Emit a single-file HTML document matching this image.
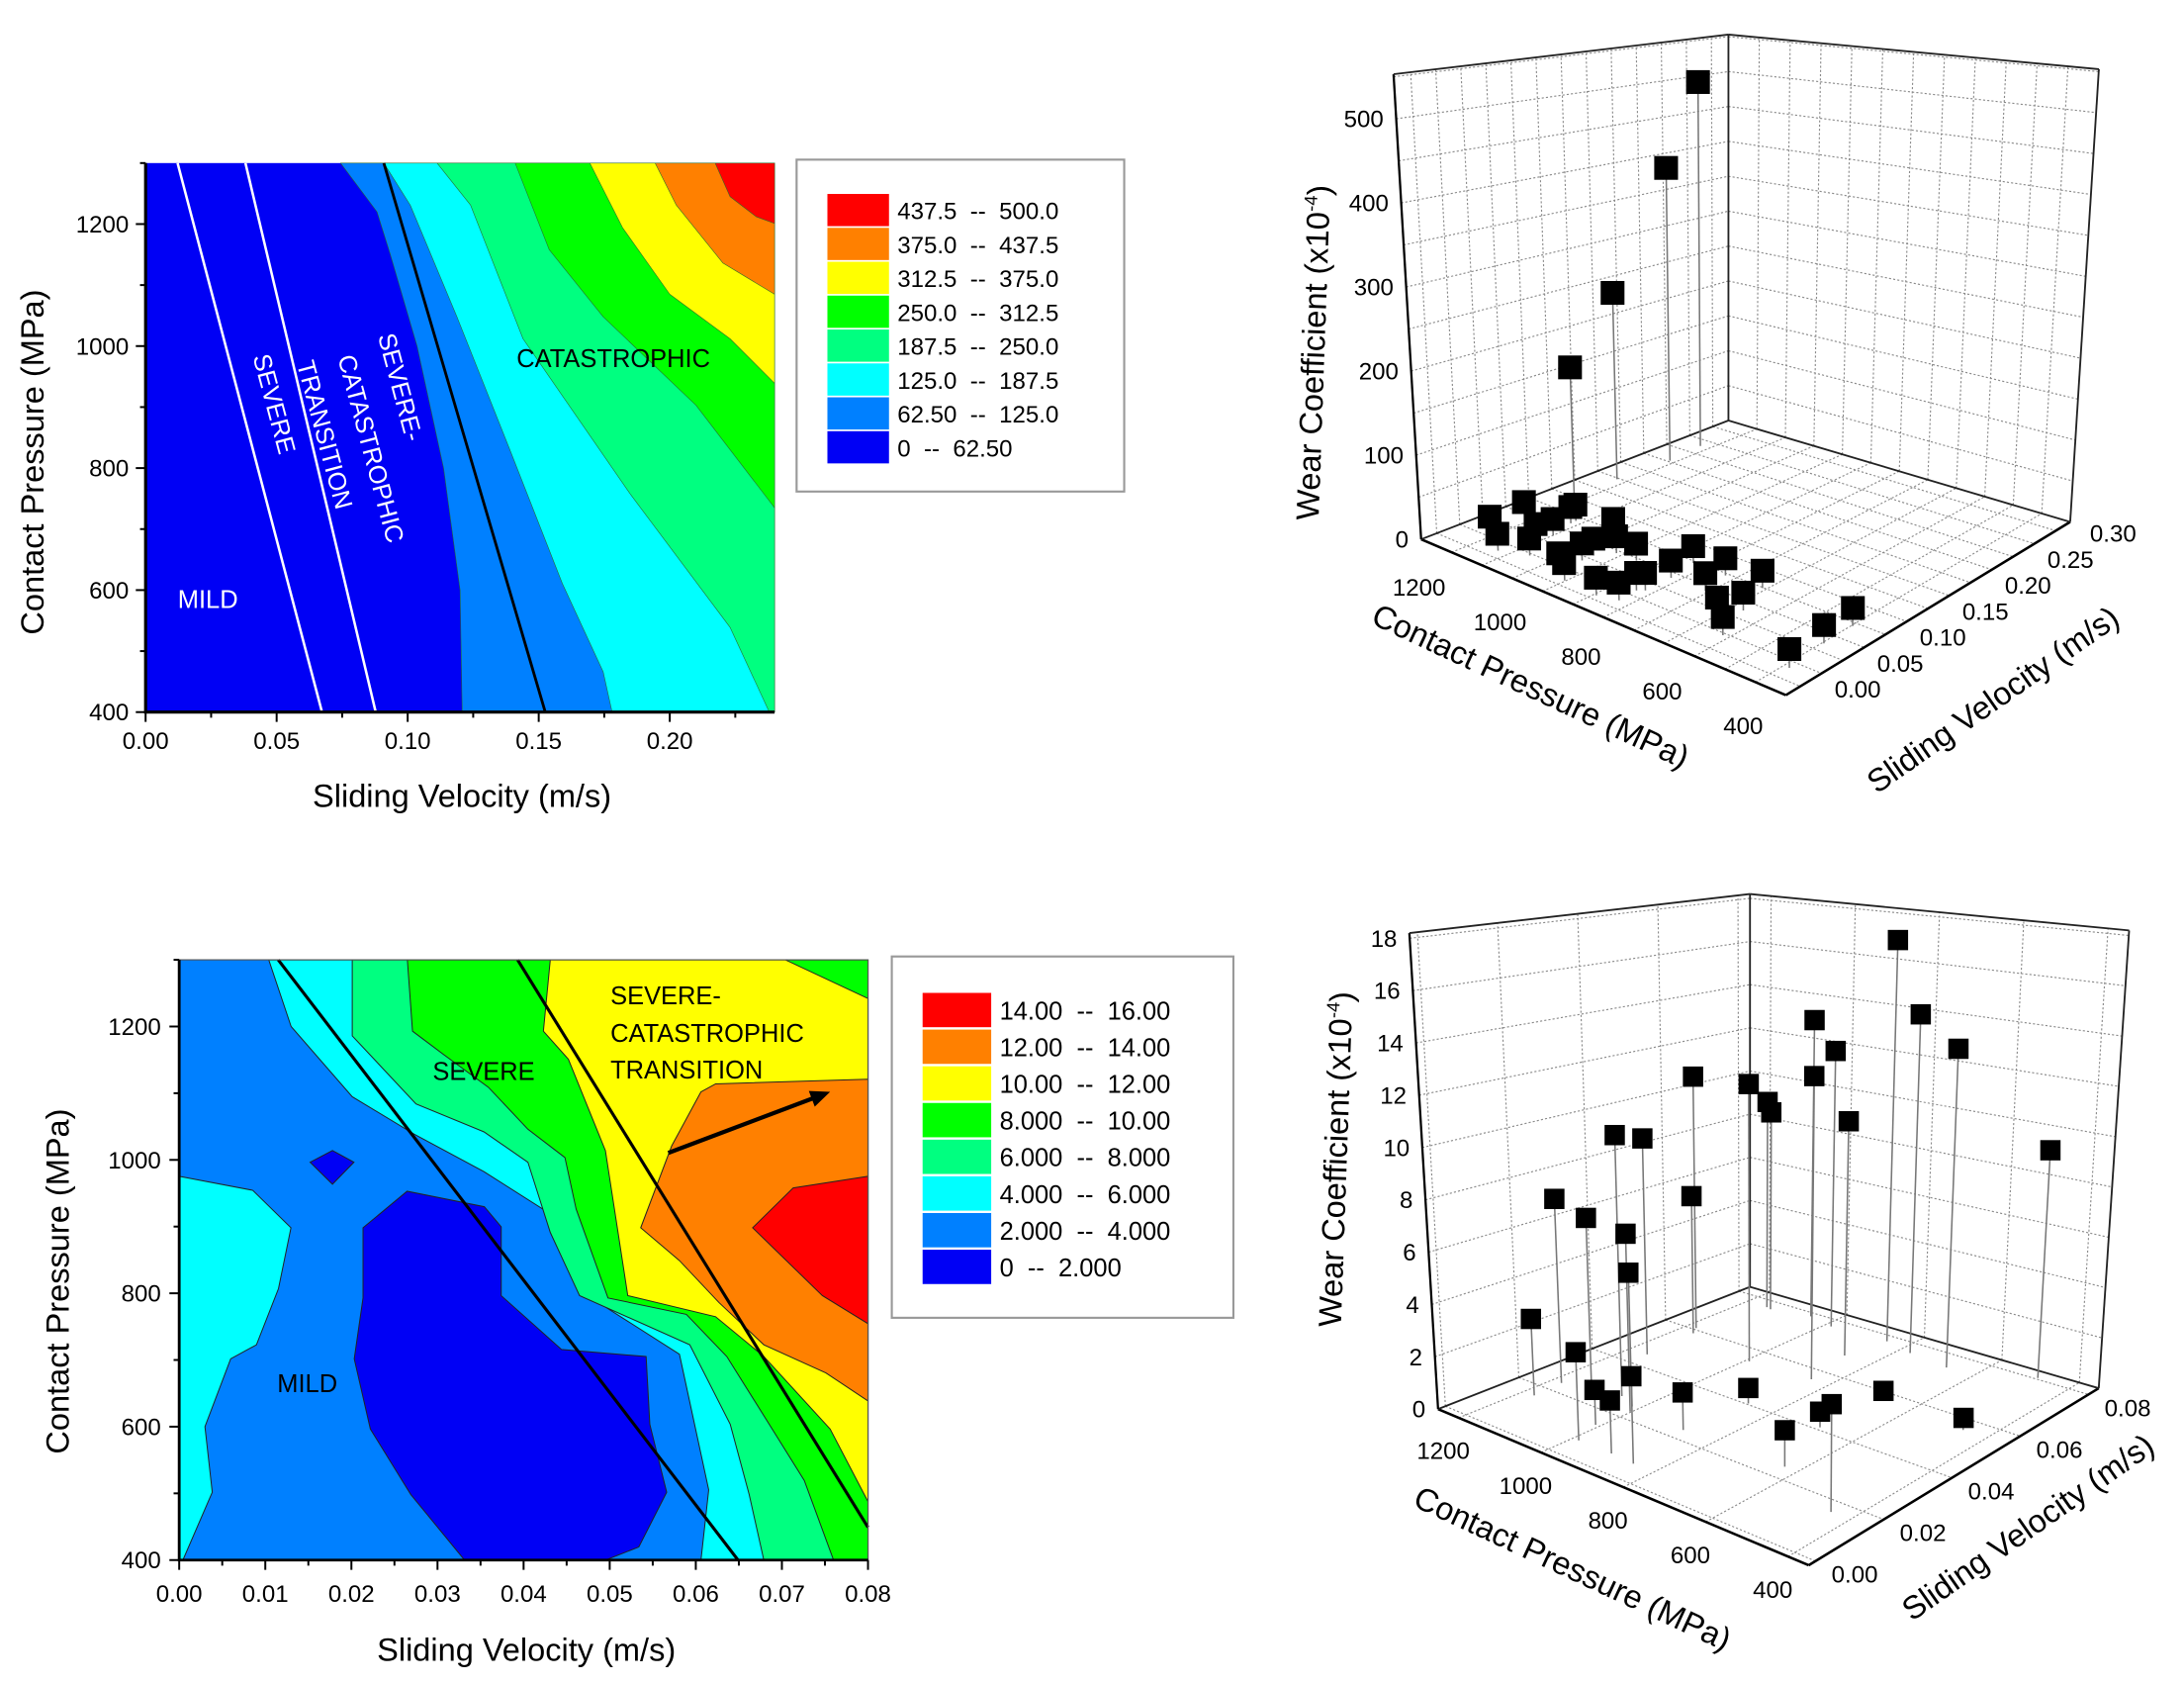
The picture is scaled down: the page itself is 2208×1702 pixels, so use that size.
<!DOCTYPE html>
<html><head><meta charset="utf-8"><style>
html,body{margin:0;padding:0;background:#fff;}
svg{display:block;font-family:"Liberation Sans",sans-serif;}
</style></head><body>
<svg id="fig" xmlns="http://www.w3.org/2000/svg" width="2208" height="1702" viewBox="0 0 1560 1202.5" preserveAspectRatio="none"></svg>
<script>
// ---------- DATA: top-left contour (wear coefficient x1e-4) ----------
const tlColors = ['#0000f5','#0080ff','#00ffff','#00ff80','#00ff00','#ffff00','#ff8000','#ff0000'];
const tlLegend = [['437.5','500.0'],['375.0','437.5'],['312.5','375.0'],['250.0','312.5'],['187.5','250.0'],['125.0','187.5'],['62.50','125.0'],['0','62.50']];
const tlBoundary1 = [[0.0744,1300],[0.0883,1220],[0.0934,1150],[0.1036,1000],[0.1137,800],[0.12,600],[0.1208,400]];
const tlBoundary2 = [[0.0909,1300],[0.101,1231],[0.1188,1048],[0.139,830],[0.159,611],[0.1746,466],[0.178,400]];
const tlBoundary3 = [[0.1112,1300],[0.124,1231],[0.144,1012],[0.185,757],[0.223,539],[0.238,400]];
const tlBoundary4 = [[0.141,1300],[0.154,1158],[0.1746,1048],[0.21,903],[0.24,735]];
const tlBoundary5 = [[0.1695,1300],[0.182,1194],[0.2,1085],[0.223,1012],[0.24,939]];
const tlBoundary6 = [[0.1944,1300],[0.2025,1231],[0.2203,1136],[0.24,1085]];
const tlBoundary7 = [[0.2173,1300],[0.223,1245],[0.233,1212],[0.24,1201]];
const tlWhiteLine1 = [[0.0122,1300],[0.0673,400]];
const tlWhiteLine2 = [[0.0381,1300],[0.0878,400]];
const tlBlackLine = [[0.0909,1300],[0.1525,400]];
const tlXTicks = [0.00,0.05,0.10,0.15,0.20];
const tlXTickLabels = ['0.00','0.05','0.10','0.15','0.20'];
const tlYTicks = [400,600,800,1000,1200];

// ---------- DATA: bottom-left contour ----------
const blColors = ['#0000f5','#0080ff','#00ffff','#00ff80','#00ff00','#ffff00','#ff8000','#ff0000'];
const blLegend = [['14.00','16.00'],['12.00','14.00'],['10.00','12.00'],['8.000','10.00'],['6.000','8.000'],['4.000','6.000'],['2.000','4.000'],['0','2.000']];
const blCyanLeft = [[0,975.4],[0.00854,954.4],[0.01298,898.2],[0.01153,807],[0.00897,722.8],[0.00598,701.7],[0.00299,600],[0.00384,501.7],[0.00043,400],[0,400]];
const blDiamond = [[0.0152,996.5],[0.0178,1014],[0.0203,996.5],[0.0178,963.5]];
const blMildCore = [[0.02135,898.2],[0.02647,953],[0.03544,929.8],[0.0374,899.6],[0.0374,796.5],[0.0444,715.8],[0.05423,705.2],[0.05466,603.5],[0.05662,501.7],[0.05338,419.6],[0.04953,400],[0.03314,400],[0.0269,498.2],[0.0222,596.5],[0.02033,701.7],[0.02135,793]];
const blBoundary1 = [[0.0104,1300],[0.013,1200],[0.0201,1094.7],[0.0273,1038.6],[0.0354,982.4],[0.0448,905.2],[0.047,800],[0.0581,708.7],[0.0615,505.2],[0.0606,400]];
const blBoundary2 = [[0.0201,1300],[0.0201,1186],[0.0275,1084],[0.0354,1042],[0.0405,996.5],[0.0431,891.2],[0.0465,796.5],[0.0593,722.8],[0.064,603.5],[0.0662,498.2],[0.0679,400]];
const blBoundary3 = [[0.0265,1300],[0.0271,1193],[0.0307,1158],[0.0359,1109],[0.0405,1046],[0.0448,1003.5],[0.0461,926.3],[0.0498,793],[0.0589,768.4],[0.0636,705.2],[0.0687,600],[0.0726,519.3],[0.076,400]];
const blYellow = [[0.0431,1300],[0.0423,1193],[0.0452,1151],[0.0495,1014],[0.0521,796.5],[0.0623,764.9],[0.0679,705.2],[0.0756,596.5],[0.08,487.7],[0.08,1242],[0.0704,1300]];
const blOrange = [[0.0606,1102],[0.0623,1114],[0.08,1121],[0.08,638.6],[0.0751,680.7],[0.0679,722.8],[0.0627,786],[0.0581,849],[0.0536,898.2],[0.0572,1021]];
const blRed = [[0.0713,957.9],[0.08,975.4],[0.08,754.4],[0.0747,796.5],[0.0666,898.2]];
const blLine1 = [[0.0115,1300],[0.0649,400]];
const blLine2 = [[0.0393,1300],[0.08,449]];
const blArrow = [[0.0568,1010.5],[0.0756,1102]];
const blXTicks = [0,0.01,0.02,0.03,0.04,0.05,0.06,0.07,0.08];
const blXTickLabels = ['0.00','0.01','0.02','0.03','0.04','0.05','0.06','0.07','0.08'];
const blYTicks = [400,600,800,1000,1200];

// ---------- DATA: top-right 3D scatter (P MPa, v m/s, wear x1e-4) ----------
const trPressure = [1196,1187,1196,1205,1185,1123,1189,1069,1105,1099,1114,1115,988,952,987,986,869,1020,963,825,829,817,914,817,828,733,747,649,589,625,658,411,421,422];
const trVelocity = [0.264,0.227,0.173,0.13,0.030,0.011,0.069,0.022,0.045,0.061,0.087,0.093,0.018,0.0084,0.0435,0.056,0.0064,0.093,0.071,0.012,0.0334,0.038,0.0715,0.067,0.097,0.068,0.097,0.043,0.022,0.062,0.099,0.016,0.061,0.095];
const trWear = [500,393,243,161,20,20,20,20,20,20,20,20,20,20,20,20,20,20,20,20,20,20,20,20,20,20,20,20,20,20,20,20,20,20];
const trWTicks = [0,100,200,300,400,500];
const trPTicks = [400,600,800,1000,1200];
const trVTicks = [0,0.05,0.10,0.15,0.20,0.25,0.30];
const trVTickLabels = ['0.00','0.05','0.10','0.15','0.20','0.25','0.30'];

// ---------- DATA: bottom-right 3D scatter ----------
const brPressure = [848,773,669,1051,985,844,868,992,1150,1137,1179,1060,1158,1165,1179,1141,1002,850,1175,986,485,1009,907,1015,877,863,632,689,447,671,460];
const brVelocity = [0.0777,0.076,0.0748,0.0785,0.077,0.056,0.068,0.055,0.077,0.0766,0.0607,0.0272,0.045,0.0584,0.0238,0.0278,0.023,0.0066,0.0159,0.0069,0.0805,0.0142,0.007,0.025,0.0237,0.0404,0.0244,0.041,0.0161,0.057,0.056];
const brWear = [17.1,14.2,13.1,13.1,12.0,12.3,9.8,11.5,9.2,8.8,10.9,10.3,9.0,5.9,7.35,6.6,6.9,7.0,3.0,3.3,9.2,1.33,1.96,1.18,1.43,0.61,1.34,0.6,3.8,0.37,0.46];
const brWTicks = [0,2,4,6,8,10,12,14,16,18];
const brPTicks = [400,600,800,1000,1200];
const brVTicks = [0,0.02,0.04,0.06,0.08];
const brVTickLabels = ['0.00','0.02','0.04','0.06','0.08'];

const NS = 'http://www.w3.org/2000/svg';
const svg = document.getElementById('fig');
function mk(tag, attrs, parent){
  const el = document.createElementNS(NS, tag);
  for (const k in attrs) el.setAttribute(k, attrs[k]);
  (parent || svg).appendChild(el);
  return el;
}
function txt(str, attrs, parent){
  const el = mk('text', attrs, parent);
  el.textContent = str;
  return el;
}
function pts(arr, X, Y){ return arr.map(d => X(d[0]).toFixed(2)+','+Y(d[1]).toFixed(2)).join(' '); }

// ================= TOP-LEFT CONTOUR =================
(function(){
  const X = v => 104 + v/0.05*93.6;
  const Y = p => 508.5 - (p-400)/800*348.5;
  const vmax = 0.24, pmin = 400, pmax = 1300;
  const g = mk('g', {});
  
  
  const bg = mk('rect', {x:X(0), y:Y(pmax), width:X(vmax)-X(0), height:Y(pmin)-Y(pmax), fill:tlColors[0]}, g);
  
  
  const bounds = [tlBoundary1,tlBoundary2,tlBoundary3,tlBoundary4,tlBoundary5,tlBoundary6,tlBoundary7];
  bounds.forEach((b,i) => {
    const poly = b.slice();
    const last = b[b.length-1];
    if (last[0] < vmax - 1e-6) poly.push([vmax,pmin]);
    poly.push([vmax,pmax]);
    const el = mk('polygon', {points:pts(poly,X,Y), fill:tlColors[i+1], stroke:'#2a6a2a', 'stroke-width':0.4, 'stroke-linejoin':'round'}, g);
    
    
  });
  const w1 = mk('polyline', {points:pts(tlWhiteLine1,X,Y), stroke:'#fff', 'stroke-width':1.8, fill:'none'}, g);
  
  
  const w2 = mk('polyline', {points:pts(tlWhiteLine2,X,Y), stroke:'#fff', 'stroke-width':1.8, fill:'none'}, g);
  
  
  const bl = mk('polyline', {points:pts(tlBlackLine,X,Y), stroke:'#000', 'stroke-width':2, fill:'none'}, g);
  
  
  const ax = mk('path', {d:`M${X(0)},${Y(pmax)} L${X(0)},${Y(pmin)} L${X(vmax)},${Y(pmin)}`, stroke:'#000', 'stroke-width':2.2, fill:'none'}, g);
  
  
  for (let p=400; p<=1300; p+=100){
    const major = tlYTicks.includes(p);
    const t = mk('line', {x1:X(0), x2:X(0)-(major?7:4), y1:Y(p), y2:Y(p), stroke:'#000', 'stroke-width':1.4}, g);
    
    
  }
  tlYTicks.forEach(p => {
    const t = txt(String(p), {x:92, y:Y(p)+6, 'font-size':17, 'text-anchor':'end'}, g);
    
    
  });
  for (let k=0; k<=9; k++){
    const v = k*0.025;
    const major = k%2===0;
    const t = mk('line', {x1:X(v), x2:X(v), y1:Y(pmin), y2:Y(pmin)+(major?7:4), stroke:'#000', 'stroke-width':1.4}, g);
    
    
  }
  tlXTicks.forEach((v,i) => {
    const t = txt(tlXTickLabels[i], {x:X(v), y:535, 'font-size':17, 'text-anchor':'middle'}, g);
    
    
  });
  const xt = txt('Sliding Velocity (m/s)', {x:330, y:576, 'font-size':23, 'text-anchor':'middle'}, g);
  
  
  const yt = txt('Contact Pressure (MPa)', {x:0, y:0, 'font-size':23, 'text-anchor':'middle', transform:'translate(31,330) rotate(-90)'}, g);
  
  
  const l1 = txt('MILD', {x:127, y:434, 'font-size':18, fill:'#fff'}, g);
  
  
  const l2 = txt('SEVERE', {x:0, y:0, 'font-size':18, fill:'#fff', 'text-anchor':'middle', transform:'translate(190,290) rotate(75)'}, g);
  
  
  const l3 = txt('TRANSITION', {x:0, y:0, 'font-size':18, fill:'#fff', 'text-anchor':'middle', transform:'translate(226,312) rotate(75)'}, g);
  
  
  const l4 = txt('CATASTROPHIC', {x:0, y:0, 'font-size':18, fill:'#fff', 'text-anchor':'middle', transform:'translate(259,322) rotate(75)'}, g);
  
  
  const l5 = txt('SEVERE-', {x:0, y:0, 'font-size':18, fill:'#fff', 'text-anchor':'middle', transform:'translate(280,278) rotate(75)'}, g);
  
  
  const l6 = txt('CATASTROPHIC', {x:369, y:262, 'font-size':18, fill:'#000'}, g);
  
  
  const lg = mk('g', {});
  
  
  const box = mk('rect', {x:569, y:114, width:234, height:237, fill:'#fff', stroke:'#999', 'stroke-width':1.5}, lg);
  
  
  tlLegend.forEach((r,i) => {
    const y0 = 138.5 + i*24.2;
    const sw = mk('rect', {x:591, y:y0, width:44, height:23, fill:tlColors[7-i]}, lg);
    
    
    const t = txt(i===7 ? '0  --  62.50' : r[0]+'  --  '+r[1], {x:641, y:y0+18, 'font-size':17, style:'white-space:pre'}, lg);
    
    
  });
})();

// ================= BOTTOM-LEFT CONTOUR =================
(function(){
  const X = v => 128 + v/0.08*492;
  const Y = p => 1114 - (p-400)/800*381;
  const vmax = 0.08, pmin = 400, pmax = 1300;
  const g = mk('g', {});
  
  
  const bg = mk('rect', {x:X(0), y:Y(pmax), width:X(vmax)-X(0), height:Y(pmin)-Y(pmax), fill:blColors[1]}, g);
  
  
  const st = {stroke:'#222', 'stroke-width':0.7};
  function poly(arr, color, name){
    const el = mk('polygon', Object.assign({points:pts(arr,X,Y), fill:color}, st), g);
    
    
  }
  poly(blCyanLeft, blColors[2], 'contour-level-2-left');
  poly(blDiamond, blColors[0], 'contour-level-0-diamond');
  poly(blMildCore, blColors[0], 'contour-level-0-core');
  [blBoundary1, blBoundary2, blBoundary3].forEach((b,i) => {
    poly(b.concat([[vmax,pmin],[vmax,pmax]]), blColors[i+2], 'contour-level-'+(i+2));
  });
  poly(blYellow, blColors[5], 'contour-level-5');
  poly(blOrange, blColors[6], 'contour-level-6');
  poly(blRed, blColors[7], 'contour-level-7');
  const a1 = mk('polyline', {points:pts(blLine1,X,Y), stroke:'#000', 'stroke-width':2.2, fill:'none'}, g);
  
  
  const a2 = mk('polyline', {points:pts(blLine2,X,Y), stroke:'#000', 'stroke-width':2.2, fill:'none'}, g);
  
  
  const x1 = X(blArrow[0][0]), y1 = Y(blArrow[0][1]), x2 = X(blArrow[1][0]), y2 = Y(blArrow[1][1]);
  const ang = Math.atan2(y2-y1, x2-x1);
  const ar = mk('line', {x1:x1, y1:y1, x2:x2-8*Math.cos(ang), y2:y2-8*Math.sin(ang), stroke:'#000', 'stroke-width':3}, g);
  
  
  const hx = x2, hy = y2;
  const ah = mk('polygon', {points:`${hx},${hy} ${hx-14*Math.cos(ang)+6*Math.sin(ang)},${hy-14*Math.sin(ang)-6*Math.cos(ang)} ${hx-14*Math.cos(ang)-6*Math.sin(ang)},${hy-14*Math.sin(ang)+6*Math.cos(ang)}`, fill:'#000'}, g);
  
  
  const frame = mk('rect', {x:X(0), y:Y(pmax), width:X(vmax)-X(0), height:Y(pmin)-Y(pmax), fill:'none', stroke:'#555', 'stroke-width':0.8}, g);
  
  
  const ax = mk('path', {d:`M${X(0)},${Y(pmax)} L${X(0)},${Y(pmin)} L${X(vmax)},${Y(pmin)}`, stroke:'#000', 'stroke-width':2, fill:'none'}, g);
  
  
  for (let p=400; p<=1300; p+=100){
    const major = blYTicks.includes(p);
    const t = mk('line', {x1:X(0), x2:X(0)-(major?7:4), y1:Y(p), y2:Y(p), stroke:'#000', 'stroke-width':1.4}, g);
    
    
  }
  blYTicks.forEach(p => {
    const t = txt(String(p), {x:115, y:Y(p)+6, 'font-size':17, 'text-anchor':'end'}, g);
    
    
  });
  for (let k=0; k<=16; k++){
    const v = k*0.005;
    const major = k%2===0;
    const t = mk('line', {x1:X(v), x2:X(v), y1:Y(pmin), y2:Y(pmin)+(major?7:4), stroke:'#000', 'stroke-width':1.4}, g);
    
    
  }
  blXTicks.forEach((v,i) => {
    const t = txt(blXTickLabels[i], {x:X(v), y:1144, 'font-size':17, 'text-anchor':'middle'}, g);
    
    
  });
  const xt = txt('Sliding Velocity (m/s)', {x:376, y:1186, 'font-size':23, 'text-anchor':'middle'}, g);
  
  
  const yt = txt('Contact Pressure (MPa)', {x:0, y:0, 'font-size':23, 'text-anchor':'middle', transform:'translate(49,915) rotate(-90)'}, g);
  
  
  const labels = [['MILD',198,994,'mild-label'],['SEVERE',309,771,'severe-label'],['SEVERE-',436,717,'severe-dash-label'],['CATASTROPHIC',436,744,'catastrophic-label'],['TRANSITION',436,770,'transition-label']];
  labels.forEach(l => {
    const t = txt(l[0], {x:l[1], y:l[2], 'font-size':18}, g);
    
    
  });
  const lg = mk('g', {});
  
  
  const box = mk('rect', {x:637, y:683, width:244, height:258, fill:'#fff', stroke:'#999', 'stroke-width':1.5}, lg);
  
  
  blLegend.forEach((r,i) => {
    const y0 = 709 + i*26.2;
    const sw = mk('rect', {x:659, y:y0, width:49, height:24.5, fill:blColors[7-i]}, lg);
    
    
    const t = txt(i===7 ? '0  --  2.000' : r[0]+'  --  '+r[1], {x:714, y:y0+19, 'font-size':18, style:'white-space:pre'}, lg);
    
    
  });
})();

// ================= 3D SCATTER =================
function make3D(cfg){
  function proj(P, v, w){
    const a = (cfg.P0-P)/(cfg.P0-cfg.P1), b = (v-cfg.v0)/(cfg.v1-cfg.v0), t = w/cfg.wmax;
    const c00=(1-a)*(1-b), c10=a*(1-b), c01=(1-a)*b, c11=a*b;
    const fx = c00*cfg.L[0]+c10*cfg.F[0]+c01*cfg.B[0]+c11*cfg.R[0];
    const fy = c00*cfg.L[1]+c10*cfg.F[1]+c01*cfg.B[1]+c11*cfg.R[1];
    const ux = c00*cfg.uL[0]+c10*cfg.uF[0]+c01*cfg.uB[0]+c11*cfg.uR[0];
    const uy = c00*cfg.uL[1]+c10*cfg.uF[1]+c01*cfg.uB[1]+c11*cfg.uR[1];
    return [fx+t*ux, fy+t*uy];
  }
  const g = mk('g', {});
  
  
  const {P0,P1,v0,v1,wmax} = cfg;
  function line(p, q, attrs, name){
    const el = mk('line', Object.assign({x1:p[0], y1:p[1], x2:q[0], y2:q[1]}, attrs), g);
    
    
    return el;
  }
  const grid = {stroke:'#8a8a8a', 'stroke-width':0.8, 'stroke-dasharray':'1.5,1.5'};
  cfg.wGrid.forEach(w => {
    line(proj(P0,v0,w), proj(P0,v1,w), grid, 'left-wall-gridline');
    line(proj(P0,v1,w), proj(P1,v1,w), grid, 'right-wall-gridline');
  });
  cfg.vGrid.forEach(v => {
    line(proj(P0,v,0), proj(P0,v,wmax), grid, 'left-wall-gridline');
    line(proj(P0,v,0), proj(P1,v,0), grid, 'floor-gridline');
  });
  cfg.pGrid.forEach(p => {
    line(proj(p,v1,0), proj(p,v1,wmax), grid, 'right-wall-gridline');
    line(proj(p,v0,0), proj(p,v1,0), grid, 'floor-gridline');
  });
  const fr = {stroke:'#222', 'stroke-width':1.3};
  line(proj(P0,v0,0), proj(P1,v0,0), {stroke:'#000','stroke-width':1.8}, 'pressure-axis');
  line(proj(P1,v0,0), proj(P1,v1,0), {stroke:'#000','stroke-width':1.8}, 'velocity-axis');
  line(proj(P0,v0,0), proj(P0,v1,0), fr, 'floor-back-edge');
  line(proj(P0,v1,0), proj(P1,v1,0), fr, 'floor-back-edge');
  line(proj(P0,v0,0), proj(P0,v0,wmax), {stroke:'#000','stroke-width':1.6}, 'wear-axis');
  line(proj(P0,v1,0), proj(P0,v1,wmax), fr, 'back-vertical-edge');
  line(proj(P1,v1,0), proj(P1,v1,wmax), fr, 'right-vertical-edge');
  line(proj(P0,v0,wmax), proj(P0,v1,wmax), fr, 'top-edge');
  line(proj(P0,v1,wmax), proj(P1,v1,wmax), fr, 'top-edge');
  cfg.wTicks.forEach(w => {
    const p = proj(P0,v0,w);
    const t = txt(String(w), {x:p[0]-9, y:p[1]+6, 'font-size':17, 'text-anchor':'end'}, g);
    
    
  });
  cfg.pTicks.forEach(P => {
    const p = proj(P,v0,0);
    const t = txt(String(P), {x:p[0]+cfg.pOff[0], y:p[1]+cfg.pOff[1]+6, 'font-size':17, 'text-anchor':'middle'}, g);
    
    
  });
  cfg.vTicks.forEach((v,i) => {
    const p = proj(P1,v,0);
    const t = txt(cfg.vLabels[i], {x:p[0]+cfg.vOff[0], y:p[1]+cfg.vOff[1]+6, 'font-size':17, 'text-anchor':'middle'}, g);
    
    
  });
  const idx = cfg.P.map((_,i)=>i).sort((i,j) => (cfg.P[j]-cfg.P[i]));
  idx.forEach(i => {
    const base = proj(cfg.P[i], cfg.V[i], 0), top = proj(cfg.P[i], cfg.V[i], cfg.W[i]);
    line(base, top, {stroke:'#777', 'stroke-width':1.1}, 'data-stem');
  });
  idx.forEach(i => {
    const top = proj(cfg.P[i], cfg.V[i], cfg.W[i]);
    const s = cfg.size;
    const r = mk('rect', {x:top[0]-s/2, y:top[1]-s/2, width:s, height:s, fill:'#000'}, g);
    
    
  });
  const t1 = mk('text', {x:0, y:0, 'font-size':23, 'text-anchor':'middle', transform:`translate(${cfg.wTitle[0]},${cfg.wTitle[1]}) rotate(-88)`}, g);
  
  
  t1.appendChild(document.createTextNode('Wear Coefficient (x10'));
  const sup = mk('tspan', {'font-size':13, dy:-9}, t1);
  sup.textContent = '-4';
  const cl = mk('tspan', {dy:9}, t1);
  cl.textContent = ')';
  const t2 = txt('Contact Pressure (MPa)', {x:0, y:0, 'font-size':23, 'text-anchor':'middle', transform:`translate(${cfg.pTitle[0]},${cfg.pTitle[1]}) rotate(25)`}, g);
  
  
  const t3 = txt('Sliding Velocity (m/s)', {x:0, y:0, 'font-size':23, 'text-anchor':'middle', transform:`translate(${cfg.vTitle[0]},${cfg.vTitle[1]}) rotate(-35)`}, g);
  
  
}

const trWGrid = []; for (let w=0; w<=550; w+=50) trWGrid.push(w);
const trVGrid = []; for (let k=0; k<=12; k++) trVGrid.push(k*0.025);
const trPGrid = []; for (let p=425; p<=1225; p+=75) trPGrid.push(p);
make3D({name:'top-3d-scatter', P0:1250, P1:350, v0:-0.017, v1:0.317, wmax:553,
  L:[1015.1,385.1], F:[1275.6,496.4], R:[1478.7,372.7], B:[1234.6,300.3],
  uL:[-19.7,-332.1], uF:[0,-379.8], uR:[20.5,-323.3], uB:[0,-275.6],
  wGrid:trWGrid, vGrid:trVGrid, pGrid:trPGrid,
  wTicks:trWTicks, pTicks:trPTicks, vTicks:trVTicks, vLabels:trVTickLabels,
  pOff:[-16,28], vOff:[41,2],
  P:trPressure, V:trVelocity, W:trWear, size:17,
  wTitle:[946,252], pTitle:[1090,497], vTitle:[1428,506]});

const brWGrid = []; for (let w=0; w<=18; w+=2) brWGrid.push(w);
const brVGrid = [0,0.02,0.04,0.06,0.08];
const brPGrid = [400,600,800,1000,1200];
make3D({name:'bottom-3d-scatter', P0:1250, P1:350, v0:-0.002, v1:0.083, wmax:18.2,
  L:[1027.2,1006.2], F:[1291.9,1117.7], R:[1499.1,991.3], B:[1250.0,918.9],
  uL:[-20.5,-339.9], uF:[0,-386.4], uR:[21.7,-326.9], uB:[0,-280.5],
  wGrid:brWGrid, vGrid:brVGrid, pGrid:brPGrid,
  wTicks:brWTicks, pTicks:brPTicks, vTicks:brVTicks, vLabels:brVTickLabels,
  pOff:[-11,23.5], vOff:[28,9.5],
  P:brPressure, V:brVelocity, W:brWear, size:14.5,
  wTitle:[962,828], pTitle:[1120,1127], vTitle:[1453,1097]});
</script>
</body></html>
